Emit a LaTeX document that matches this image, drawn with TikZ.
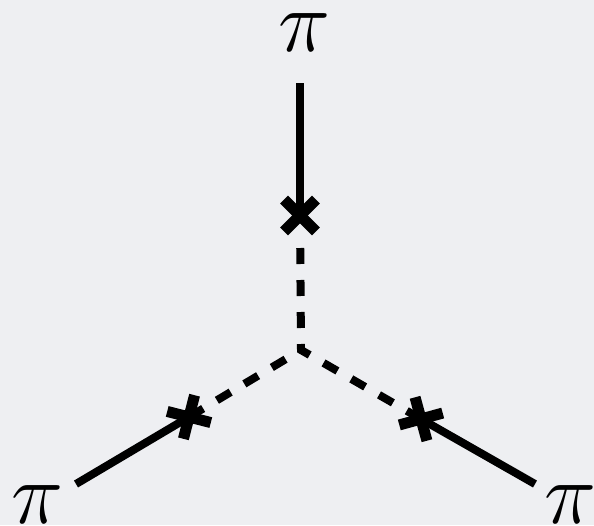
\documentclass[tikz,border=0pt]{standalone}
\usepackage{fix-cm}
\usetikzlibrary{calc}
\definecolor{bgcol}{RGB}{238,239,242}
\begin{document}
\begin{tikzpicture}[x=1pt,y=-1pt,
  solidleg/.style={line width=8pt,black},
  dashleg/.style={line width=8pt,black,dash pattern=on 16pt off 16pt},
  crossarm/.style={line width=11pt,black},
  pilabel/.style={inner sep=0pt,font=\fontsize{88}{100}\selectfont}]
\fill[bgcol] (0,0) rectangle (594,525);
\useasboundingbox (0,0) rectangle (594,525);
% points
\coordinate (v) at (301,350);
\coordinate (ct) at (300,215.5);
\coordinate (cl) at (189,417);
\coordinate (cr) at (421,419);
\coordinate (et) at (300,83);
\coordinate (el) at (76,484);
\coordinate (er) at (535,484);
% labels
\node[pilabel] (pt) at (305,32.5) {$\pi$};
\node[pilabel] (pl) at (37.5,505) {$\pi$};
\node[pilabel] (pr) at (571,505) {$\pi$};
% solid legs
\draw[solidleg] (et) -- (ct);
\draw[solidleg] (el) -- (cl);
\draw[solidleg] (er) -- (cr);
% dashed propagators
\draw[dashleg,shorten <=32.5pt] (ct) -- (v) -- (cr);
\draw[dashleg,dash phase=16pt,shorten <=2pt] (v) -- (cl);
% crosses
\foreach \c/\e in {ct/et,cl/el,cr/er}{
  \draw[crossarm] ($(\c)!22.5pt!45:(\e)$) -- ($(\c)!22.5pt!225:(\e)$);
  \draw[crossarm] ($(\c)!22.5pt!-45:(\e)$) -- ($(\c)!22.5pt!135:(\e)$);
}
\end{tikzpicture}
\end{document}
